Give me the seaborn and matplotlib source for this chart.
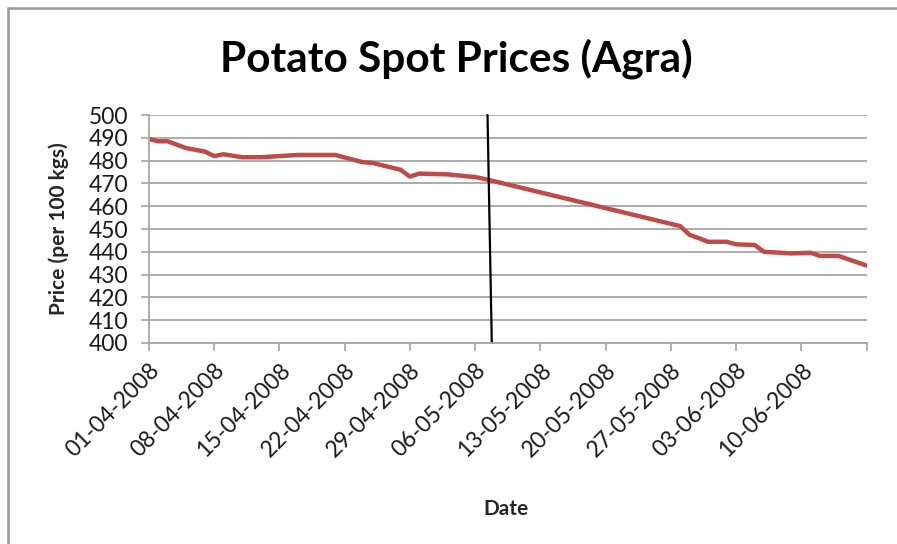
import matplotlib
matplotlib.use("Agg")
import matplotlib.pyplot as plt
import pandas as pd
import seaborn as sns
from matplotlib.lines import Line2D

# spot price series (dd-mm-yyyy)
dates = ["01-04-2008", "02-04-2008", "03-04-2008", "05-04-2008", "07-04-2008",
         "08-04-2008", "09-04-2008", "11-04-2008", "13-04-2008", "15-04-2008",
         "17-04-2008", "21-04-2008", "23-04-2008", "24-04-2008", "25-04-2008",
         "28-04-2008", "29-04-2008", "30-04-2008", "03-05-2008", "06-05-2008",
         "07-05-2008", "28-05-2008", "29-05-2008", "30-05-2008", "31-05-2008",
         "02-06-2008", "03-06-2008", "05-06-2008", "06-06-2008", "09-06-2008",
         "11-06-2008", "12-06-2008", "14-06-2008", "17-06-2008"]
prices = [489.5, 488.5, 488.5, 485.5, 484.0,
          482.0, 482.8, 481.5, 481.5, 482.0,
          482.5, 482.5, 480.3, 479.3, 479.0,
          476.0, 473.0, 474.3, 474.0, 472.8,
          472.0, 451.3, 447.5, 446.0, 444.4,
          444.4, 443.3, 443.0, 440.0, 439.3,
          439.6, 438.2, 438.2, 434.0]

# hand-drawn marker line (slightly slanted)
marker_dates = ["2008-05-07 08:00", "2008-05-07 19:00"]
marker_prices = [500, 400]

tick_dates = ["01-04-2008", "08-04-2008", "15-04-2008", "22-04-2008", "29-04-2008",
              "06-05-2008", "13-05-2008", "20-05-2008", "27-05-2008", "03-06-2008",
              "10-06-2008", "17-06-2008"]
tick_labels = tick_dates[:-1] + [""]
y_ticks = list(range(400, 501, 10))

df = pd.DataFrame({"Date": pd.to_datetime(dates, format="%d-%m-%Y"),
                   "Price": prices})

sns.set_style("white")
plt.rcParams["font.family"] = ["Lato", "DejaVu Sans"]

fig = plt.figure(figsize=(8.97, 5.44), dpi=100)
ax = fig.add_axes([0.166, 0.3695, 0.8, 0.419])

grid_c = "#a6a6a6"
ax.set_axisbelow(True)
ax.yaxis.grid(True, color=grid_c, linewidth=1.3)

sns.lineplot(ax=ax, data=df, x="Date", y="Price", color="#be4b48", linewidth=3.2)
ax.plot(pd.to_datetime(marker_dates), marker_prices, color="black", linewidth=1.6,
        clip_on=False)

ax.set_ylim(400, 500)
ax.set_yticks(y_ticks)
xt = pd.to_datetime(tick_dates, format="%d-%m-%Y")
ax.set_xlim(xt[0], xt[-1])
ax.set_xticks(xt)
ax.set_xticklabels(tick_labels, rotation=45, ha="right", rotation_mode="anchor")
ax.tick_params(axis="both", direction="out", length=6, width=1.2, color=grid_c,
               labelsize=16.5, labelcolor="#1a1a1a", bottom=True, left=True)
ax.tick_params(axis="x", pad=6)
ax.tick_params(axis="y", pad=9)

for s in ["top", "right"]:
    ax.spines[s].set_visible(False)
for s in ["left", "bottom"]:
    ax.spines[s].set_color(grid_c)
    ax.spines[s].set_linewidth(1.3)

ax.set_ylabel("Price (per 100 kgs)", fontsize=15, fontweight="bold")
ax.yaxis.set_label_coords(-0.111, 0.5)
ax.set_xlabel("Date", fontsize=15, fontweight="bold")
ax.xaxis.set_label_coords(0.497, -0.685)

fig.text(0.509, 0.893, "Potato Spot Prices (Agra)", ha="center", va="center",
         fontsize=30.5, fontweight="bold", color="black")

# chart frame (only top and left edges visible in the crop)
fig.add_artist(Line2D([7.5 / 897, 7.5 / 897], [0, 1 - 8 / 544], color="#9a9a9a",
                      linewidth=1.8, transform=fig.transFigure))
fig.add_artist(Line2D([7.5 / 897, 1], [1 - 8 / 544, 1 - 8 / 544], color="#9a9a9a",
                      linewidth=1.8, transform=fig.transFigure))

fig.savefig("out.png", dpi=100, facecolor="white")
